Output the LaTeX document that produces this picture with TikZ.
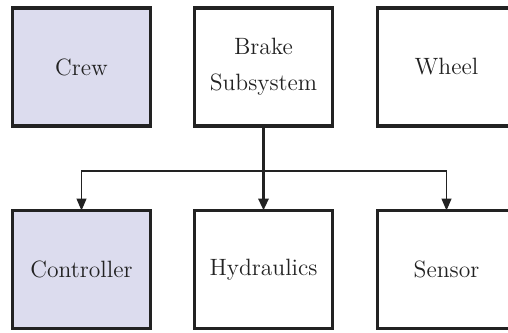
\documentclass[tikz,border=0pt]{standalone}
\usetikzlibrary{arrows.meta}
\definecolor{boxfill}{RGB}{220,220,238}
\definecolor{ink}{RGB}{34,34,34}
\begin{document}
\begin{tikzpicture}[x=0.5pt,y=-0.5pt,
  block/.style={draw=ink, line width=1.6pt, minimum width=69pt, minimum height=59pt,
    inner sep=0pt, outer sep=0pt, align=center, text=ink,
    font=\fontsize{11.8}{18}\selectfont},
  shaded/.style={block, fill=boxfill},
  trunk/.style={draw=ink, line width=1.5pt, -{Triangle[length=6pt,width=5pt]}},
  branch/.style={draw=ink, line width=0.65pt, -{Triangle[length=6pt,width=5pt]}}]
  \useasboundingbox (0,0) rectangle (508,332);
  % top row
  \node[shaded] (crew)  at (81.5,67) {Crew};
  \node[block]  (brake) at (263.5,67) {Brake\\Subsystem};
  \node[block]  (wheel) at (446.5,67) {Wheel};
  % bottom row
  \node[shaded] (ctrl)  at (81.5,269.5) {Controller};
  \node[block]  (hyd)   at (263.5,269.5) {Hydraulics};
  \node[block]  (sens)  at (446.5,269.5) {Sensor};
  % distribution bus
  \coordinate (bus) at (263.5,171);
  \draw[branch] (bus) -| (ctrl.north);
  \draw[branch] (bus) -| (sens.north);
  \draw[trunk] (brake.south) -- (hyd.north);
\end{tikzpicture}
\end{document}
